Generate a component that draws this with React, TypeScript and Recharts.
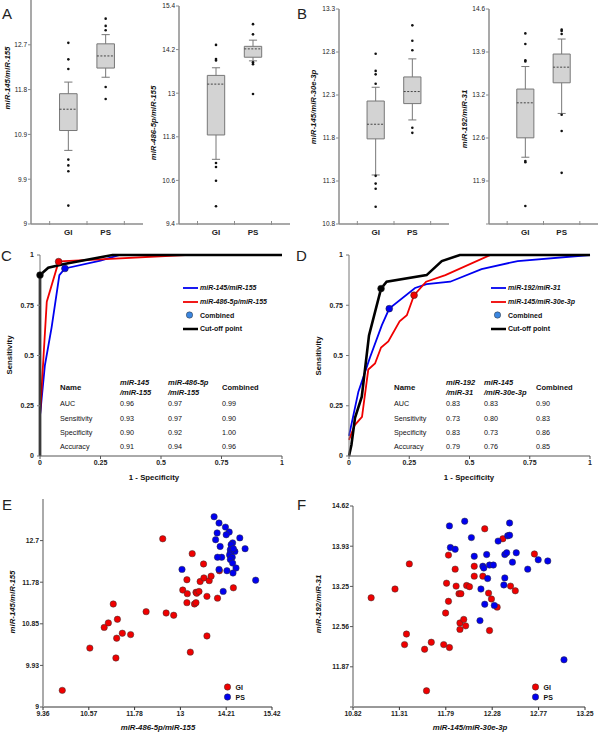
import React from 'react';
import { ScatterChart, Scatter, LineChart, Line, XAxis, YAxis, ReferenceArea, ReferenceLine, ReferenceDot, Legend } from 'recharts';

const FONT = '"Liberation Sans", Arial, sans-serif';

// ---- box plots (A, B): [lower whisker, q1, median, q3, upper whisker] per group
const groups = ['GI', 'PS'];

const a1Ticks = [9, 9.925, 10.85, 11.775, 12.7];
const a1Labels = ['9', '9.9', '10.9', '11.8', '12.7'];
const a1Box = [[10.52, 10.93, 11.37, 11.69, 11.93], [12.03, 12.22, 12.47, 12.72, 12.91]];
const a1Out = [[12.74, 12.4, 12.2, 10.33, 10.21, 10.09, 9.38], [13.24, 13.09, 13.0, 11.83, 11.58]];

const a2Ticks = [9.4, 10.6, 11.8, 13, 14.2, 15.4];
const a2Labels = ['9.4', '10.6', '11.8', '13', '14.2', '15.4'];
const a2Box = [[11.18, 11.85, 13.25, 13.49, 13.7], [13.89, 13.99, 14.22, 14.29, 14.46]];
const a2Out = [[14.33, 13.94, 13.9, 11.08, 10.97, 10.59, 9.89], [14.9, 14.62, 13.85, 13.8, 12.98]];

const b1Ticks = [10.8, 11.3, 11.8, 12.3, 12.8, 13.3];
const b1Labels = ['10.8', '11.3', '11.8', '12.3', '12.8', '13.3'];
const b1Box = [[11.37, 11.79, 11.96, 12.23, 12.39], [12.01, 12.2, 12.34, 12.51, 12.72]];
const b1Out = [[12.78, 12.58, 12.54, 12.43, 11.36, 11.27, 11.21, 11.0], [13.11, 12.93, 12.82, 11.92, 11.86]];

const b2Ticks = [11.1825, 11.87, 12.5575, 13.245, 13.9325, 14.62];
const b2Labels = ['', '11.9', '12.6', '13.2', '13.9', '14.6'];
const b2Box = [[12.25, 12.56, 13.12, 13.34, 13.7], [12.95, 13.44, 13.69, 13.9, 14.14]];
const b2Out = [[14.23, 14.06, 13.8, 13.78, 12.19, 12.17, 11.47], [14.29, 14.27, 14.22, 12.93, 12.67, 12.0]];

// ---- ROC curves (C, D): [1 - specificity, sensitivity]
const rocTicks = [0, 0.25, 0.5, 0.75, 1];

const rocC1 = [[0, 0.2], [0.02, 0.45], [0.048, 0.64], [0.08, 0.9], [0.103, 0.933], [0.25, 0.972], [0.33, 1], [1, 1]];
const rocC2 = [[0, 0.2], [0.028, 0.768], [0.077, 0.967], [0.1, 0.97], [0.25, 0.978], [0.6, 1], [1, 1]];
const rocCc = [[0, 0], [0, 0.9], [0.034, 0.937], [0.1, 0.955], [0.3, 1], [1, 1]];
const rocCmark = [[0.103, 0.933], [0.077, 0.967], [0, 0.9]];

const rocD1 = [[0, 0.1], [0.039, 0.32], [0.087, 0.49], [0.136, 0.65], [0.167, 0.733], [0.274, 0.836], [0.322, 0.855], [0.42, 0.867], [0.55, 0.93], [0.7, 0.97], [1, 1]];
const rocD2 = [[0, 0.08], [0.024, 0.154], [0.054, 0.195], [0.08, 0.43], [0.108, 0.46], [0.133, 0.54], [0.163, 0.57], [0.21, 0.67], [0.24, 0.7], [0.27, 0.8], [0.32, 0.867], [0.4, 0.9], [0.587, 1], [1, 1]];
const rocDc = [[0, 0], [0.01, 0.055], [0.025, 0.19], [0.053, 0.295], [0.083, 0.6], [0.133, 0.833], [0.156, 0.867], [0.322, 0.9], [0.385, 0.97], [0.46, 1], [1, 1]];
const rocDmark = [[0.167, 0.733], [0.27, 0.8], [0.133, 0.833]];

const rowNames = ['AUC', 'Sensitivity', 'Specificity', 'Accuracy'];
const tableCHeads = [['miR-145', '/miR-155'], ['miR-486-5p', '/miR-155'], ['Combined']];
const tableCVals = [[0.96, 0.97, 0.99], [0.93, 0.97, 0.9], [0.9, 0.92, 1.0], [0.91, 0.94, 0.96]];
const tableDHeads = [['miR-192', '/miR-31'], ['miR-145', '/miR-30e-3p'], ['Combined']];
const tableDVals = [[0.83, 0.83, 0.9], [0.73, 0.8, 0.83], [0.83, 0.73, 0.86], [0.79, 0.76, 0.85]];

// ---- scatter plots (E, F): [x, y]
const eXTicks = [9.36, 10.5725, 11.785, 12.9975, 14.21, 15.4225];
const eXLabels = ['9.36', '10.57', '11.78', '13', '14.21', '15.42'];
const eYTicks = [9, 9.925, 10.85, 11.775, 12.7];
const eYLabels = ['9', '9.93', '10.85', '11.78', '12.7'];
const eGI = [
  [9.87, 9.37], [10.6, 10.31], [10.98, 10.77], [11.09, 10.87], [11.22, 11.29], [11.29, 10.09], [11.31, 10.53],
  [11.33, 10.95], [11.46, 10.64], [11.68, 10.61], [12.09, 11.12], [12.53, 12.74], [12.62, 11.09], [12.82, 11.04],
  [13.06, 11.6], [13.17, 11.83], [13.18, 11.52], [13.17, 11.32], [13.26, 10.22], [13.31, 12.41], [13.37, 11.29],
  [13.41, 11.55], [13.41, 11.32], [13.43, 11.53], [13.49, 11.57], [13.52, 11.79], [13.61, 12.18], [13.62, 11.87],
  [13.7, 11.46], [13.7, 10.58], [13.76, 11.81], [13.81, 11.91], [13.98, 11.42], [14.03, 12.03], [14.4, 11.65],
];
const ePS = [
  [13.04, 12.06], [13.89, 13.23], [14.02, 13.09], [13.97, 12.87], [13.93, 12.72], [14.05, 12.57], [14.19, 13.0],
  [14.29, 12.89], [14.21, 12.83], [14.38, 12.65], [14.34, 12.61], [14.32, 12.5], [14.44, 12.46], [14.32, 12.43],
  [14.3, 12.38], [14.37, 12.33], [14.32, 12.28], [14.38, 12.2], [14.47, 12.09], [14.39, 11.98], [14.23, 12.03],
  [14.09, 12.33], [13.98, 12.33], [14.02, 12.06], [14.57, 12.76], [14.71, 12.52], [14.99, 11.82], [14.13, 11.57],
  [14.4, 12.52],
];

const fXTicks = [10.82, 11.306, 11.792, 12.278, 12.764, 13.25];
const fXLabels = ['10.82', '11.31', '11.79', '12.28', '12.77', '13.25'];
const fYTicks = [11.1825, 11.87, 12.5575, 13.245, 13.9325, 14.62];
const fYLabels = ['', '11.87', '12.56', '13.25', '13.93', '14.62'];
const fGI = [
  [11.01, 13.05], [11.26, 13.2], [11.41, 13.63], [11.38, 12.43], [11.36, 12.25], [11.57, 12.17], [11.64, 12.29],
  [11.59, 11.46], [11.77, 12.25], [11.83, 12.2], [11.79, 12.79], [11.8, 13.3], [11.82, 13.78], [11.82, 12.99],
  [11.89, 13.54], [11.9, 13.25], [11.93, 13.12], [11.95, 13.12], [11.94, 12.62], [11.94, 12.51], [11.98, 12.68],
  [12.0, 12.57], [12.01, 13.26], [12.04, 13.24], [12.09, 13.59], [12.09, 13.42], [12.18, 13.42], [12.2, 14.23],
  [12.24, 13.13], [12.25, 12.49], [12.27, 13.03], [12.33, 12.89], [12.39, 14.06], [12.47, 13.25], [12.52, 13.17],
  [12.72, 13.8],
];
const fPS = [
  [11.83, 14.28], [11.99, 14.36], [12.06, 14.08], [11.84, 13.91], [11.89, 13.88], [12.09, 13.76], [12.22, 13.79],
  [12.18, 13.59], [12.19, 13.56], [12.25, 13.61], [12.29, 13.61], [12.23, 13.38], [12.16, 13.2], [12.2, 12.94],
  [12.3, 12.92], [12.15, 12.66], [12.34, 14.02], [12.44, 14.11], [12.46, 14.12], [12.46, 14.33], [12.41, 13.79],
  [12.43, 13.82], [12.53, 13.82], [12.49, 13.66], [12.41, 13.39], [12.4, 13.27], [12.65, 13.54], [12.76, 13.7],
  [12.86, 13.68], [13.03, 11.99],
];

const RED = '#f00000';
const BLUE = '#0000f0';
const AXIS_GRAY = '#8c8c8c';

const toPts = (arr: number[][]) => arr.map(([x, y]) => ({ x, y }));

const Letter = ({ x, y, t }: { x: number; y: number; t: string }) => (
  <div style={{ position: 'absolute', left: x, top: y, transform: 'translateY(-50%)', fontSize: 15, lineHeight: 1, color: '#222' }}>{t}</div>
);

const AxisTitle = ({ x, y, t, rotate, italic = true }: { x: number; y: number; t: string; rotate?: boolean; italic?: boolean }) => (
  <div
    style={{
      position: 'absolute', left: x, top: y, whiteSpace: 'nowrap', fontSize: 7.8, lineHeight: 1, fontWeight: 'bold',
      fontStyle: italic ? 'italic' : 'normal', color: '#111',
      transform: `translate(-50%, -50%)${rotate ? ' rotate(-90deg)' : ''}`,
    }}
  >
    {t}
  </div>
);

const BoxTick = (p: any) => {
  const v = p.payload.value;
  const name = v % 2 === 0 ? groups[v / 2 - 1] : '';
  if (name) {
    return <text x={p.x} y={p.y + 11} textAnchor="middle" fontSize={8} fontWeight="bold" fill="#222" fontFamily={FONT}>{name}</text>;
  }
  return <line x1={p.x} x2={p.x} y1={p.y - 3} y2={p.y + 1} stroke={AXIS_GRAY} />;
};

type BoxProps = { x: number; y: number; w: number; h: number; domain: number[]; ticks: number[]; labels: string[]; box: number[][]; out: number[][] };

function BoxPanel({ x, y, w, h, domain, ticks, labels, box, out }: BoxProps) {
  const yw = 30, mt = 8, mr = 4, xh = 18;
  const pts = out.flatMap((vals, g) => vals.map((v) => ({ x: 2 + g * 2, y: v })));
  const parts: React.ReactNode[] = [];
  box.forEach(([lo, q1, med, q3, hi], g) => {
    const c = 2 + g * 2;
    parts.push(
      <ReferenceLine key={`wu${g}`} segment={[{ x: c, y: q3 }, { x: c, y: hi }]} stroke="#777" />,
      <ReferenceLine key={`wl${g}`} segment={[{ x: c, y: lo }, { x: c, y: q1 }]} stroke="#777" />,
      <ReferenceLine key={`cu${g}`} segment={[{ x: c - 0.22, y: hi }, { x: c + 0.22, y: hi }]} stroke="#777" />,
      <ReferenceLine key={`cl${g}`} segment={[{ x: c - 0.22, y: lo }, { x: c + 0.22, y: lo }]} stroke="#777" />,
      <ReferenceArea key={`b${g}`} x1={c - 0.47} x2={c + 0.47} y1={q1} y2={q3} fill="#d3d3d3" fillOpacity={1} stroke="#777" />,
      <ReferenceLine key={`m${g}`} segment={[{ x: c - 0.47, y: med }, { x: c + 0.47, y: med }]} stroke="#444" strokeDasharray="2 1.5" />,
    );
  });
  return (
    <div style={{ position: 'absolute', left: x - yw, top: y - mt }}>
      <ScatterChart width={yw + w + mr} height={mt + h + xh} margin={{ top: mt, right: mr, bottom: 0, left: 0 }}>
        <XAxis type="number" dataKey="x" domain={[0, 6]} ticks={[1, 2, 3, 4, 5]} interval={0} tickLine={false} tickSize={0} tickMargin={0}
          tick={BoxTick} height={xh} axisLine={{ stroke: AXIS_GRAY, strokeWidth: 1.5 }} />
        <YAxis type="number" dataKey="y" domain={domain} ticks={ticks} interval={0} width={yw} tickSize={3} tickMargin={1}
          tickFormatter={(_v: number, i: number) => labels[i]} tick={{ fontSize: 6.5, fill: '#222', fontFamily: FONT }}
          axisLine={{ stroke: AXIS_GRAY, strokeWidth: 1.5 }} tickLine={{ stroke: AXIS_GRAY }} />
        {parts}
        <Scatter data={pts} isAnimationActive={false} shape={(p: any) => <circle cx={p.cx} cy={p.cy} r={1.3} fill="#111" />} />
      </ScatterChart>
    </div>
  );
}

const RocLegend = ({ names }: { names: string[] }) => {
  const row = (sw: React.ReactNode, t: string, italic: boolean, key: number) => (
    <div key={key} style={{ display: 'flex', alignItems: 'center', height: 13.7 }}>
      <svg width={16} height={8} style={{ marginRight: 1 }}>{sw}</svg>
      <span style={{ fontStyle: italic ? 'italic' : 'normal' }}>{t}</span>
    </div>
  );
  return (
    <div style={{ fontFamily: FONT, fontSize: 7, fontWeight: 'bold', color: '#111', lineHeight: 1 }}>
      {row(<line x1={0} x2={15} y1={4} y2={4} stroke={BLUE} strokeWidth={1.8} />, names[0], true, 0)}
      {row(<line x1={0} x2={15} y1={4} y2={4} stroke={RED} strokeWidth={1.8} />, names[1], true, 1)}
      {row(<circle cx={6.5} cy={4} r={3.2} fill="#3b86e0" stroke="#333" strokeWidth={0.5} />, 'Combined', false, 2)}
      {row(<line x1={0} x2={15} y1={4} y2={4} stroke="#000" strokeWidth={2.5} />, 'Cut-off point', false, 3)}
    </div>
  );
};

type RocProps = { x: number; y: number; w: number; h: number; curves: number[][][]; marks: number[][]; names: string[]; legendX: number };

function RocPanel({ x, y, w, h, curves, marks, names, legendX }: RocProps) {
  const yw = 34, mt = 8, mr = 10, xh = 16;
  const colors = [BLUE, RED, '#000'];
  const widths = [1.8, 1.8, 2.6];
  return (
    <div style={{ position: 'absolute', left: x - yw, top: y - mt }}>
      <LineChart width={yw + w + mr} height={mt + h + xh} margin={{ top: mt, right: mr, bottom: 0, left: 0 }}>
        <XAxis type="number" dataKey="x" domain={[0, 1]} ticks={rocTicks} interval={0} tickSize={3} tickMargin={1} height={xh}
          tick={{ fontSize: 7, fontWeight: 'bold', fill: '#222', fontFamily: FONT }} axisLine={{ stroke: '#555' }} tickLine={{ stroke: '#555' }} />
        <YAxis type="number" dataKey="y" domain={[0, 1]} ticks={rocTicks} interval={0} tickSize={3} tickMargin={3} width={yw}
          tick={{ fontSize: 7, fontWeight: 'bold', fill: '#222', fontFamily: FONT }} axisLine={{ stroke: '#777' }} tickLine={{ stroke: '#777' }} />
        {curves.map((c, i) => (
          <Line key={i} data={toPts(c)} dataKey="y" stroke={colors[i]} strokeWidth={widths[i]} dot={false} isAnimationActive={false} />
        ))}
        {marks.map(([mx, my], i) => (
          <ReferenceDot key={i} x={mx} y={my} r={3.4} fill={colors[i]} stroke="#222" strokeWidth={0.5} />
        ))}
        <Legend layout="vertical" align="center" verticalAlign="middle" content={() => <RocLegend names={names} />}
          wrapperStyle={{ left: legendX - (x - yw), top: 281 - (y - mt), width: 120 }} />
      </LineChart>
    </div>
  );
}

const RocTable = ({ cols, heads, vals }: { cols: number[]; heads: string[][]; vals: number[][] }) => {
  const rowY = [404, 419, 433, 447];
  const cell = (left: number, top: number, t: string, style: React.CSSProperties, key: string) => (
    <div key={key} style={{ position: 'absolute', left, top, transform: 'translateY(-50%)', whiteSpace: 'nowrap', lineHeight: 1, color: '#111', ...style }}>{t}</div>
  );
  const items: React.ReactNode[] = [];
  items.push(cell(cols[0], 388, 'Name', { fontSize: 7.8, fontWeight: 'bold' }, 'name'));
  heads.forEach((hd, j) => {
    if (hd.length === 2) {
      items.push(cell(cols[j + 1], 383, hd[0], { fontSize: 7.5, fontWeight: 'bold', fontStyle: 'italic' }, `h${j}a`));
      items.push(cell(cols[j + 1], 392.5, hd[1], { fontSize: 7.5, fontWeight: 'bold', fontStyle: 'italic' }, `h${j}b`));
    } else {
      items.push(cell(cols[j + 1], 388, hd[0], { fontSize: 7.5, fontWeight: 'bold' }, `h${j}`));
    }
  });
  rowNames.forEach((n, i) => {
    items.push(cell(cols[0], rowY[i], n, { fontSize: 7.2 }, `r${i}`));
    vals[i].forEach((v, j) => items.push(cell(cols[j + 1], rowY[i], v.toFixed(2), { fontSize: 7.2 }, `v${i}${j}`)));
  });
  return <>{items}</>;
};

type ScatProps = {
  x: number; y: number; w: number; h: number; xDomain: number[]; yDomain: number[];
  xTicks: number[]; xLabels: string[]; yTicks: number[]; yLabels: string[]; gi: number[][]; ps: number[][]; legendX: number;
};

function ScatterPanel({ x, y, w, h, xDomain, yDomain, xTicks, xLabels, yTicks, yLabels, gi, ps, legendX }: ScatProps) {
  const yw = 32, mt = 8, mr = 14, xh = 16;
  const dot = (color: string) => (p: any) => <circle cx={p.cx} cy={p.cy} r={3.2} fill={color} stroke="#333" strokeWidth={0.5} />;
  return (
    <div style={{ position: 'absolute', left: x - yw, top: y - mt }}>
      <ScatterChart width={yw + w + mr} height={mt + h + xh} margin={{ top: mt, right: mr, bottom: 0, left: 0 }}>
        <XAxis type="number" dataKey="x" domain={xDomain} ticks={xTicks} interval={0} tickSize={3} tickMargin={1} height={xh}
          tickFormatter={(_v: number, i: number) => xLabels[i]} tick={{ fontSize: 6.8, fontWeight: 'bold', fill: '#222', fontFamily: FONT }}
          axisLine={{ stroke: '#333' }} tickLine={{ stroke: '#333' }} />
        <YAxis type="number" dataKey="y" domain={yDomain} ticks={yTicks} interval={0} tickSize={3} tickMargin={1} width={yw}
          tickFormatter={(_v: number, i: number) => yLabels[i]} tick={{ fontSize: 6.8, fontWeight: 'bold', fill: '#222', fontFamily: FONT }}
          axisLine={{ stroke: '#aaa', strokeWidth: 2 }} tickLine={{ stroke: '#555' }} />
        <Scatter name="GI" data={toPts(gi)} fill={RED} shape={dot(RED)} isAnimationActive={false} />
        <Scatter name="PS" data={toPts(ps)} fill={BLUE} shape={dot(BLUE)} isAnimationActive={false} />
        <Legend layout="vertical" align="center" verticalAlign="middle"
          content={() => (
            <div style={{ fontFamily: FONT, fontSize: 7, fontWeight: 'bold', color: '#111', lineHeight: 1 }}>
              {groups.map((g, i) => (
                <div key={g} style={{ display: 'flex', alignItems: 'center', height: 10 }}>
                  <svg width={10} height={8} style={{ marginRight: 3 }}>
                    <circle cx={4.5} cy={4} r={3.2} fill={i === 0 ? RED : BLUE} stroke="#333" strokeWidth={0.5} />
                  </svg>
                  {g}
                </div>
              ))}
            </div>
          )}
          wrapperStyle={{ left: legendX - 4.5 - (x - yw), top: 682 - (y - mt), width: 40 }} />
      </ScatterChart>
    </div>
  );
}

export default function App() {
  return (
    <div style={{ position: 'absolute', left: 0, top: 0, width: 600, height: 733, background: '#fff', fontFamily: FONT, overflow: 'hidden' }}>
      <BoxPanel x={31} y={0} w={112} h={224} domain={[9, 13.625]} ticks={a1Ticks} labels={a1Labels} box={a1Box} out={a1Out} />
      <BoxPanel x={179} y={6} w={111} h={218} domain={[9.4, 15.4]} ticks={a2Ticks} labels={a2Labels} box={a2Box} out={a2Out} />
      <BoxPanel x={339} y={9} w={110} h={215} domain={[10.8, 13.3]} ticks={b1Ticks} labels={b1Labels} box={b1Box} out={b1Out} />
      <BoxPanel x={489} y={9} w={109} h={215} domain={[11.1825, 14.62]} ticks={b2Ticks} labels={b2Labels} box={b2Box} out={b2Out} />

      <RocPanel x={40} y={255} w={242} h={201} curves={[rocC1, rocC2, rocCc]} marks={rocCmark} names={['miR-145/miR-155', 'miR-486-5p/miR-155']} legendX={183} />
      <RocPanel x={349} y={255} w={241} h={201} curves={[rocD1, rocD2, rocDc]} marks={rocDmark} names={['miR-192/miR-31', 'miR-145/miR-30e-3p']} legendX={491} />
      <RocTable cols={[60, 120, 168, 222]} heads={tableCHeads} vals={tableCVals} />
      <RocTable cols={[394, 446, 484, 536]} heads={tableDHeads} vals={tableDVals} />

      <ScatterPanel x={43} y={499} w={229} h={208} xDomain={[9.36, 15.4225]} yDomain={[9, 13.625]} xTicks={eXTicks} xLabels={eXLabels}
        yTicks={eYTicks} yLabels={eYLabels} gi={eGI} ps={ePS} legendX={227} />
      <ScatterPanel x={353} y={506} w={232} h={201} xDomain={[10.82, 13.25]} yDomain={[11.1825, 14.62]} xTicks={fXTicks} xLabels={fXLabels}
        yTicks={fYTicks} yLabels={fYLabels} gi={fGI} ps={fPS} legendX={535} />

      <AxisTitle x={8} y={78} t="miR-145/miR-155" rotate />
      <AxisTitle x={154} y={123} t="miR-486-5p/miR-155" rotate />
      <AxisTitle x={314} y={107} t="miR-145/miR-30e-3p" rotate />
      <AxisTitle x={465} y={119} t="miR-192/miR-31" rotate />
      <AxisTitle x={10} y={355} t="Sensitivity" rotate italic={false} />
      <AxisTitle x={319} y={356} t="Sensitivity" rotate italic={false} />
      <AxisTitle x={154} y={478} t="1 - Specificity" italic={false} />
      <AxisTitle x={469} y={478} t="1 - Specificity" italic={false} />
      <AxisTitle x={13} y={602} t="miR-145/miR-155" rotate />
      <AxisTitle x={158} y={728} t="miR-486-5p/miR-155" />
      <AxisTitle x={319} y={604} t="miR-192/miR-31" rotate />
      <AxisTitle x={470} y={728} t="miR-145/miR-30e-3p" />

      <Letter x={2} y={13} t="A" />
      <Letter x={297} y={13} t="B" />
      <Letter x={1} y={255} t="C" />
      <Letter x={296} y={255} t="D" />
      <Letter x={2} y={504} t="E" />
      <Letter x={297} y={504} t="F" />
    </div>
  );
}
